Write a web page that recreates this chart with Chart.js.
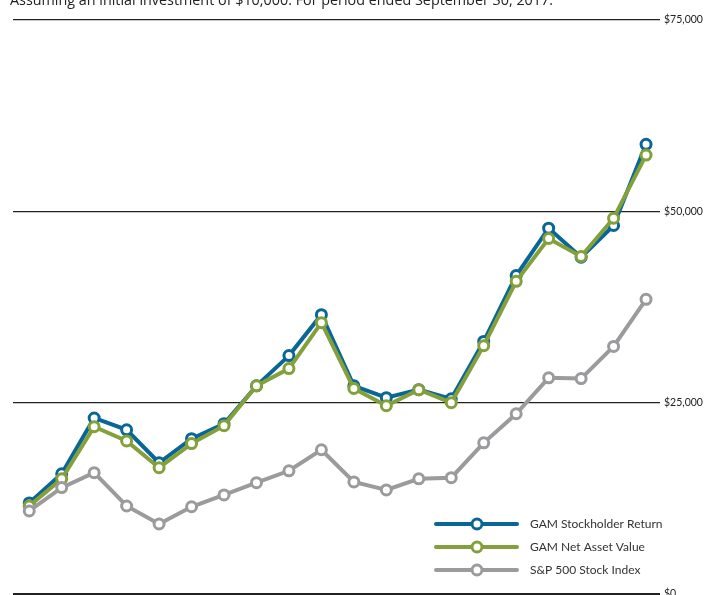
<!DOCTYPE html>
<html>
<head>
<meta charset="utf-8">
<script src="https://cdn.jsdelivr.net/npm/chart.js@4/dist/chart.umd.min.js"></script>
<style>
  html, body { margin: 0; padding: 0; background: #fff; overflow: hidden; }
  #wrap { width: 707px; height: 602px; position: relative; }
</style>
</head>
<body>
<div id="wrap"><canvas id="chart"></canvas></div>
<script>
// fiscal years ending Sept 30
const years = [1998, 1999, 2000, 2001, 2002, 2003, 2004, 2005, 2006, 2007,
  2008, 2009, 2010, 2011, 2012, 2013, 2014, 2015, 2016, 2017];
const stockholderReturn = [11900, 15700, 23000, 21450, 17150, 20300, 22250, 27200, 31150, 36500,
  27200, 25650, 26700, 25500, 33000, 41600, 47800, 44000, 48150, 58750];
const netAssetValue = [11500, 15050, 21850, 20000, 16500, 19650, 22000, 27200, 29450, 35450,
  26850, 24600, 26700, 25000, 32450, 40850, 46450, 44100, 49100, 57350];
const sp500 = [10850, 13900, 15850, 11500, 9150, 11400, 12950, 14550, 16100, 18850,
  14650, 13600, 15050, 15200, 19750, 23550, 28250, 28150, 32350, 38500];
const yTicks = [0, 25000, 50000, 75000];
const seriesNames = ['GAM Stockholder Return', 'GAM Net Asset Value', 'S&P 500 Stock Index'];
const seriesColors = ['#0a6696', '#84a03a', '#9b9b9d'];

const subtitle = 'Assuming an initial investment of $10,000. For period ended September 30, 2017.';

function toPoints(arr) {
  return arr.map((v, i) => ({ x: i, y: v }));
}

function makeSet(idx, values, order) {
  return {
    label: seriesNames[idx],
    data: toPoints(values),
    borderColor: seriesColors[idx],
    backgroundColor: '#ffffff',
    borderWidth: 4,
    pointRadius: 5,
    pointBorderWidth: 3,
    pointBackgroundColor: '#ffffff',
    pointBorderColor: seriesColors[idx],
    tension: 0,
    order: order,
    clip: false
  };
}

// legend + subtitle drawn by hand (line with ring marker in the middle)
const extras = {
  id: 'extras',
  afterDraw(chart) {
    const ctx = chart.ctx;
    ctx.save();
    ctx.fillStyle = '#222';
    ctx.font = '15px "Open Sans", sans-serif';
    ctx.textBaseline = 'alphabetic';
    // squeeze to the condensed width of the original
    const w = ctx.measureText(subtitle).width;
    ctx.translate(10, 5);
    ctx.scale(543 / w, 1);
    ctx.fillText(subtitle, 0, 0);
    ctx.setTransform(1, 0, 0, 1, 0, 0);

    const rows = [524, 547, 570];
    seriesNames.forEach((name, i) => {
      const y = rows[i];
      ctx.strokeStyle = seriesColors[i];
      ctx.lineWidth = 4;
      ctx.lineCap = 'round';
      ctx.beginPath();
      ctx.moveTo(436, y);
      ctx.lineTo(517, y);
      ctx.stroke();
      ctx.beginPath();
      ctx.arc(477, y, 5, 0, Math.PI * 2);
      ctx.fillStyle = '#fff';
      ctx.fill();
      ctx.lineWidth = 3;
      ctx.stroke();
      ctx.fillStyle = '#333';
      ctx.font = '12px Lato, "Open Sans", sans-serif';
      ctx.textBaseline = 'middle';
      ctx.fillText(name, 530, y);
    });
    ctx.restore();
  }
};

new Chart(document.getElementById('chart'), {
  type: 'line',
  data: {
    datasets: [
      makeSet(0, stockholderReturn, 3),
      makeSet(1, netAssetValue, 2),
      makeSet(2, sp500, 1)
    ]
  },
  options: {
    responsive: true,
    maintainAspectRatio: false,
    animation: false,
    layout: { padding: { top: 20, bottom: 2, left: 13, right: 0 } },
    plugins: {
      legend: { display: false },
      tooltip: { enabled: false }
    },
    scales: {
      x: {
        type: 'linear',
        min: -0.5,
        max: years.length - 0.57,
        display: false
      },
      y: {
        position: 'right',
        min: 0,
        max: 75000,
        afterBuildTicks(scale) {
          scale.ticks = yTicks.map(v => ({ value: v }));
        },
        afterFit(scale) {
          scale.width = 47;
          scale.paddingTop = 0;
          scale.paddingBottom = 0;
        },
        border: { display: false },
        grid: {
          drawTicks: false,
          color: '#222',
          lineWidth: c => (c.tick && c.tick.value === 0 ? 2.5 : 1.2)
        },
        ticks: {
          padding: 4,
          color: '#222',
          font: { family: 'Lato, "Open Sans", sans-serif', size: 10.5 },
          callback: v => '$' + v.toLocaleString('en-US')
        }
      }
    }
  },
  plugins: [extras]
});
</script>
</body>
</html>
